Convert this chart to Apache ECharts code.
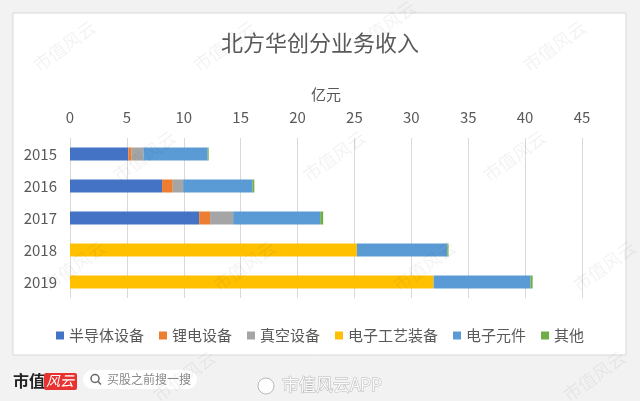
<!DOCTYPE html>
<html>
<head>
<meta charset="utf-8">
<script src="https://cdn.jsdelivr.net/npm/echarts@6/dist/echarts.min.js"></script>
<style>
  html, body { margin: 0; padding: 0; background: #f2f2f2; }
  #chart { width: 640px; height: 401px; }
</style>
</head>
<body>
<div id="chart"></div>
<script>
var years = ['2015', '2016', '2017', '2018', '2019']
var names = ['半导体设备', '锂电设备', '真空设备', '电子工艺装备', '电子元件', '其他']
var semi = [5.13, 8.09, 11.35, 0, 0]
var lithium = [0.29, 0.94, 0.96, 0, 0]
var vacuum = [1.03, 0.91, 2.03, 0, 0]
var process = [0, 0, 0, 25.21, 31.96]
var parts = [5.65, 6.09, 7.65, 7.95, 8.52]
var other = [0.09, 0.17, 0.26, 0.11, 0.18]
var xTicks = [0, 5, 10, 15, 20, 25, 30, 35, 40, 45]

var colors = ['#4472c4', '#ed7d31', '#a5a5a5', '#ffc000', '#5b9bd5', '#70ad47']
var font = '"Noto Sans CJK SC", "Microsoft YaHei", sans-serif'

var chart = echarts.init(document.getElementById('chart'))

// 水印
var marks = []
var spots = [[30, 60], [190, 60], [350, 40], [520, 60], [110, 170], [300, 170], [480, 170],
  [40, 280], [210, 280], [390, 280], [570, 280], [150, 390], [560, 390]]
spots.forEach(function (p) {
  marks.push({
    type: 'text', x: p[0], y: p[1], rotation: Math.PI / 5, z: 100, silent: true,
    style: { text: '市值风云', fill: 'rgba(0,0,0,0.05)', font: '18px ' + font }
  })
})

function bar (i, data) {
  return {
    name: names[i],
    type: 'bar',
    stack: 'total',
    barWidth: 13,
    data: data
  }
}

var option = {
  color: colors,
  backgroundColor: '#f2f2f2',
  textStyle: { fontFamily: font },
  title: {
    text: '北方华创分业务收入',
    left: 'center',
    top: 27,
    textStyle: { fontSize: 22, fontWeight: 'normal', color: '#595959', fontFamily: font }
  },
  legend: {
    data: names,
    top: 323,
    left: 'center',
    icon: 'rect',
    itemWidth: 8,
    itemHeight: 8,
    itemGap: 15,
    textStyle: { fontSize: 15, color: '#595959', fontFamily: font }
  },
  grid: { left: 70, right: 58, top: 138, bottom: 103 },
  xAxis: {
    type: 'value',
    position: 'top',
    min: xTicks[0],
    max: xTicks[xTicks.length - 1],
    interval: 5,
    name: '亿元',
    nameLocation: 'middle',
    nameGap: 36,
    nameTextStyle: { fontSize: 15, color: '#595959', fontFamily: font },
    axisLine: { show: false },
    axisTick: { show: false },
    axisLabel: { fontSize: 15, color: '#595959', margin: 13, fontFamily: font },
    splitLine: { lineStyle: { color: '#d9d9d9', width: 1 } }
  },
  yAxis: {
    type: 'category',
    inverse: true,
    data: years,
    axisLine: { show: false },
    axisTick: { show: false },
    axisLabel: { fontSize: 15, color: '#595959', margin: 13, fontFamily: font }
  },
  graphic: [
    {
      type: 'rect', z: -10, silent: true,
      shape: { x: 13, y: 13, width: 613, height: 342 },
      style: { fill: '#fff', stroke: '#d9d9d9', lineWidth: 1 }
    },
    {
      type: 'text', x: 13, y: 373, silent: true,
      style: { text: '市值', fill: '#222', font: 'bold 16px ' + font }
    },
    {
      type: 'rect', silent: true,
      shape: { x: 44, y: 373, width: 33, height: 17, r: 2 },
      style: { fill: '#e8322f' }
    },
    {
      type: 'text', x: 46, y: 374, silent: true,
      style: { text: '风云', fill: '#fff', font: 'italic 14px ' + font }
    },
    {
      type: 'rect', silent: true,
      shape: { x: 83, y: 370, width: 114, height: 19, r: 9.5 },
      style: { fill: '#fff' }
    },
    {
      type: 'circle', silent: true,
      shape: { cx: 95, cy: 378.5, r: 4 },
      style: { fill: 'none', stroke: '#666', lineWidth: 1.5 }
    },
    {
      type: 'line', silent: true,
      shape: { x1: 98, y1: 381.5, x2: 101, y2: 384.5 },
      style: { stroke: '#666', lineWidth: 1.5 }
    },
    {
      type: 'text', x: 107, y: 373, silent: true,
      style: { text: '买股之前搜一搜', fill: '#888', font: '12px ' + font }
    },
    {
      type: 'circle', silent: true,
      shape: { cx: 266, cy: 386, r: 8 },
      style: { fill: 'rgba(255,255,255,0.9)', stroke: 'rgba(0,0,0,0.25)', lineWidth: 1 }
    },
    {
      type: 'text', x: 282, y: 376, silent: true,
      style: { text: '市值风云APP', fill: 'rgba(255,255,255,0.9)', stroke: 'rgba(0,0,0,0.25)', lineWidth: 1, font: '17px ' + font }
    }
  ].concat(marks),
  series: [
    bar(0, semi),
    bar(1, lithium),
    bar(2, vacuum),
    bar(3, process),
    bar(4, parts),
    bar(5, other)
  ]
}
chart.setOption(option)
</script>
</body>
</html>
